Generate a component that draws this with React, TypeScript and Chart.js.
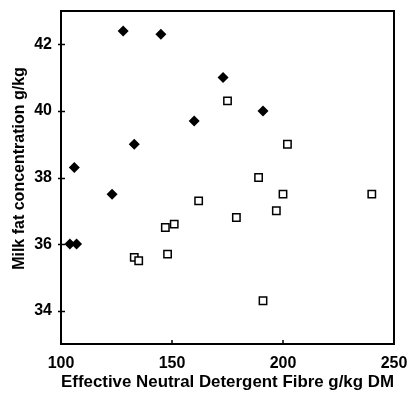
import React, { useEffect, useRef } from "react";
import { Chart, registerables } from "chart.js";

Chart.register(...registerables);

const diamondX = [104, 107, 106, 123, 128, 133, 145, 160, 173, 191];
const diamondY = [36.0, 36.0, 38.3, 37.5, 42.4, 39.0, 42.3, 39.7, 41.0, 40.0];

const squareX = [133, 135, 147, 148, 151, 162, 175, 179, 189, 191, 197, 200, 202, 240];
const squareY = [35.6, 35.5, 36.5, 35.7, 36.6, 37.3, 40.3, 36.8, 38.0, 34.3, 37.0, 37.5, 39.0, 37.5];

const xTicks = [100, 150, 200, 250];
const yTicks = [34, 36, 38, 40, 42];

const xTitle = "Effective Neutral Detergent Fibre g/kg DM";
const yTitle = "Milk fat concentration g/kg";

const FONT = "'Liberation Sans', Arial, sans-serif";

const noPad = (s: any) => {
  s.paddingTop = 0;
  s.paddingBottom = 0;
  s.paddingLeft = 0;
  s.paddingRight = 0;
};

const framePlugin = {
  id: "frame",
  afterDraw(chart: any) {
    const { ctx, chartArea } = chart;
    const { left, right, top, bottom } = chartArea;
    const xs = chart.scales.x;
    const ys = chart.scales.y;
    ctx.save();
    ctx.strokeStyle = "#000";
    ctx.lineWidth = 2;
    ctx.strokeRect(left, top, right - left, bottom - top);
    ctx.lineWidth = 1.5;
    ctx.beginPath();
    for (const v of yTicks) {
      const py = Math.round(ys.getPixelForValue(v)) + 0.5;
      ctx.moveTo(left - 3, py);
      ctx.lineTo(left + 4, py);
    }
    for (const v of xTicks) {
      const px = Math.round(xs.getPixelForValue(v));
      ctx.moveTo(px, bottom);
      ctx.lineTo(px, bottom - 4);
    }
    ctx.stroke();
    // y axis title
    ctx.translate(20, (top + bottom) / 2 - 9);
    ctx.rotate(-Math.PI / 2);
    ctx.fillStyle = "#000";
    ctx.font = `bold 16px ${FONT}`;
    ctx.textAlign = "center";
    ctx.textBaseline = "middle";
    ctx.fillText(yTitle, 0, 0);
    ctx.restore();
  },
};

export default function App() {
  const ref = useRef<HTMLCanvasElement>(null);
  useEffect(() => {
    if (!ref.current) return;
    const chart = new Chart(ref.current, {
      type: "scatter",
      data: {
        datasets: [
          {
            label: "A",
            data: diamondX.map((x, i) => ({ x, y: diamondY[i] })),
            pointStyle: "rectRot",
            pointRadius: 5.5,
            backgroundColor: "#000",
            borderColor: "#000",
            borderWidth: 0,
          },
          {
            label: "B",
            data: squareX.map((x, i) => ({ x, y: squareY[i] })),
            pointStyle: "rect",
            pointRadius: 5.2,
            backgroundColor: "#fff",
            borderColor: "#000",
            borderWidth: 1.5,
          },
        ],
      },
      options: {
        responsive: false,
        animation: false,
        layout: { padding: { top: 11, right: 16, left: 0, bottom: 0 } },
        plugins: { legend: { display: false }, tooltip: { enabled: false } },
        scales: {
          x: {
            type: "linear",
            min: 100,
            max: 250,
            afterFit: (s: any) => {
              s.height = 50;
              noPad(s);
            },
            afterBuildTicks: (s: any) => {
              s.ticks = xTicks.map((v) => ({ value: v }));
            },
            grid: { display: false, drawTicks: false },
            border: { display: false },
            ticks: {
              padding: 10,
              color: "#000",
              font: { family: FONT, size: 16, weight: "bold" },
              maxRotation: 0,
            },
            title: {
              display: true,
              text: xTitle,
              color: "#000",
              font: { family: FONT, size: 17, weight: "bold" },
              padding: { top: 0, bottom: 1 },
            },
          },
          y: {
            type: "linear",
            min: 33,
            max: 43,
            afterFit: (s: any) => {
              s.width = 61;
              noPad(s);
            },
            afterBuildTicks: (s: any) => {
              s.ticks = yTicks.map((v) => ({ value: v }));
            },
            grid: { display: false, drawTicks: false },
            border: { display: false },
            ticks: {
              padding: 9,
              color: "#000",
              font: { family: FONT, size: 16, weight: "bold" },
            },
            title: { display: false },
          },
        },
      },
      plugins: [framePlugin],
    });
    return () => chart.destroy();
  }, []);
  return (
    <div style={{ position: "absolute", left: 0, top: 0, width: 410, height: 394, background: "#fff" }}>
      <canvas ref={ref} width={410} height={394} style={{ width: 410, height: 394, display: "block" }} />
    </div>
  );
}
